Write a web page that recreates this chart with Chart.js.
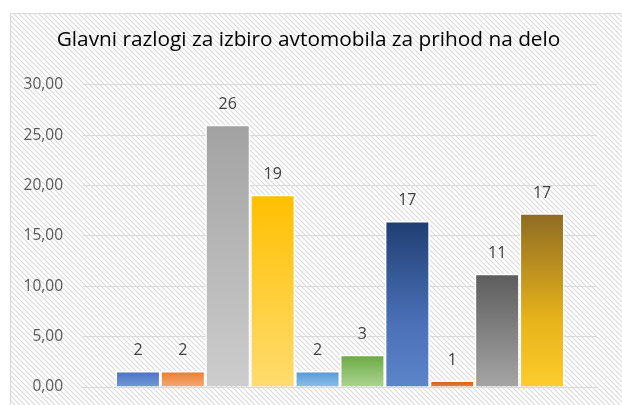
<!DOCTYPE html>
<html>
<head>
<meta charset="utf-8">
<script src="https://cdn.jsdelivr.net/npm/chart.js@4/dist/chart.umd.min.js"></script>
<style>
  html, body { margin: 0; padding: 0; background: #ffffff; }
  #wrap { width: 622px; height: 405px; }
</style>
</head>
<body>
<div id="wrap"><canvas id="c" width="622" height="405"></canvas></div>
<script>
// ---- data ----
const chartTitle = 'Glavni razlogi za izbiro avtomobila za prihod na delo';
const categories = [''];
const seriesValues = [1.6, 1.6, 26.05, 19.1, 1.6, 3.2, 16.5, 0.65, 11.25, 17.25];
const yTicks = { min: 0, max: 30, step: 5 };
// gradient stops per series (top -> bottom)
const seriesGradients = [
  ['#4a70be', '#7099da'],
  ['#ea7a2e', '#f6a974'],
  ['#a2a2a2', '#cdcdcd'],
  ['#ffbf00', '#ffdc70'],
  ['#5596d3', '#8cbfea'],
  ['#6aa942', '#acd491'],
  ['#1f3e72', '#4a6fb6', '#5c85ca'],
  ['#c45a13', '#e8823f'],
  ['#5c5c5c', '#a5a5a5'],
  ['#8e6b22', '#e5b21a', '#ffcc2c']
];

const BW = 1.5;
const FONT = "'Open Sans', 'DejaVu Sans', sans-serif";

function hatchPattern(ctx) {
  const s = 5;
  const c = document.createElement('canvas');
  c.width = s; c.height = s;
  const g = c.getContext('2d');
  g.fillStyle = '#ffffff';
  g.fillRect(0, 0, s, s);
  g.strokeStyle = '#dadada';
  g.lineWidth = 1.2;
  for (const k of [-s, 0, s]) {
    g.beginPath();
    g.moveTo(k, 0);
    g.lineTo(k + s, s);
    g.stroke();
  }
  return ctx.createPattern(c, 'repeat');
}

const backgroundPlugin = {
  id: 'bgFrame',
  beforeDraw(chart) {
    const ctx = chart.ctx;
    ctx.save();
    ctx.fillStyle = '#ffffff';
    ctx.fillRect(0, 0, chart.width, chart.height);
    ctx.fillStyle = hatchPattern(ctx);
    ctx.fillRect(10, 13, chart.width, chart.height);
    ctx.strokeStyle = '#d9d9d9';
    ctx.lineWidth = 1;
    ctx.strokeRect(10.5, 13.5, chart.width + 20, chart.height + 20);
    ctx.restore();
  }
};

const valueLabelPlugin = {
  id: 'valueLabels',
  afterDatasetsDraw(chart) {
    const ctx = chart.ctx;
    ctx.save();
    ctx.font = '16px ' + FONT;
    ctx.fillStyle = '#404040';
    ctx.textAlign = 'center';
    ctx.textBaseline = 'middle';
    chart.data.datasets.forEach((ds, i) => {
      const meta = chart.getDatasetMeta(i);
      meta.data.forEach((el, j) => {
        const v = ds.data[j];
        ctx.fillText(String(Math.round(v)), el.x, el.y + BW - 21.5);
      });
    });
    ctx.restore();
  }
};

function gradientFor(stops) {
  return function (c) {
    const chart = c.chart;
    if (!chart.chartArea || c.raw === undefined) return stops[0];
    const y = chart.scales.y;
    const top = y.getPixelForValue(c.raw);
    const bottom = y.getPixelForValue(0);
    const g = chart.ctx.createLinearGradient(0, top, 0, bottom);
    if (stops.length === 2) {
      g.addColorStop(0, stops[0]);
      g.addColorStop(1, stops[1]);
    } else {
      g.addColorStop(0, stops[0]);
      g.addColorStop(0.6, stops[1]);
      g.addColorStop(1, stops[2]);
    }
    return g;
  };
}

const datasets = seriesValues.map((v, i) => ({
  data: [v],
  backgroundColor: gradientFor(seriesGradients[i]),
  borderColor: '#ffffff',
  borderWidth: BW,
  categoryPercentage: 0.8735,
  barPercentage: 1.0
}));

new Chart(document.getElementById('c'), {
  type: 'bar',
  data: { labels: categories, datasets },
  options: {
    responsive: false,
    devicePixelRatio: 1,
    animation: false,
    layout: { padding: { left: 20, right: 25, top: 0, bottom: 18 } },
    plugins: {
      legend: { display: false },
      tooltip: { enabled: false },
      title: {
        display: true,
        text: chartTitle,
        color: '#000000',
        font: { family: FONT, size: 20.8, weight: 'normal', lineHeight: 1.2 },
        padding: { top: 27.5, bottom: 32.5 }
      }
    },
    scales: {
      x: { display: false },
      y: {
        min: yTicks.min,
        max: yTicks.max,
        afterFit(scale) { scale.width = 63; },
        border: { display: false },
        grid: { color: '#d9d9d9', lineWidth: 1, drawTicks: true, tickLength: 20, tickColor: 'rgba(0,0,0,0)' },
        ticks: {
          stepSize: yTicks.step,
          padding: 0,
          color: '#595959',
          font: { family: FONT, size: 15.5 },
          callback: (v) => Number(v).toFixed(2).replace('.', ',')
        }
      }
    }
  },
  plugins: [backgroundPlugin, valueLabelPlugin]
});
</script>
</body>
</html>
